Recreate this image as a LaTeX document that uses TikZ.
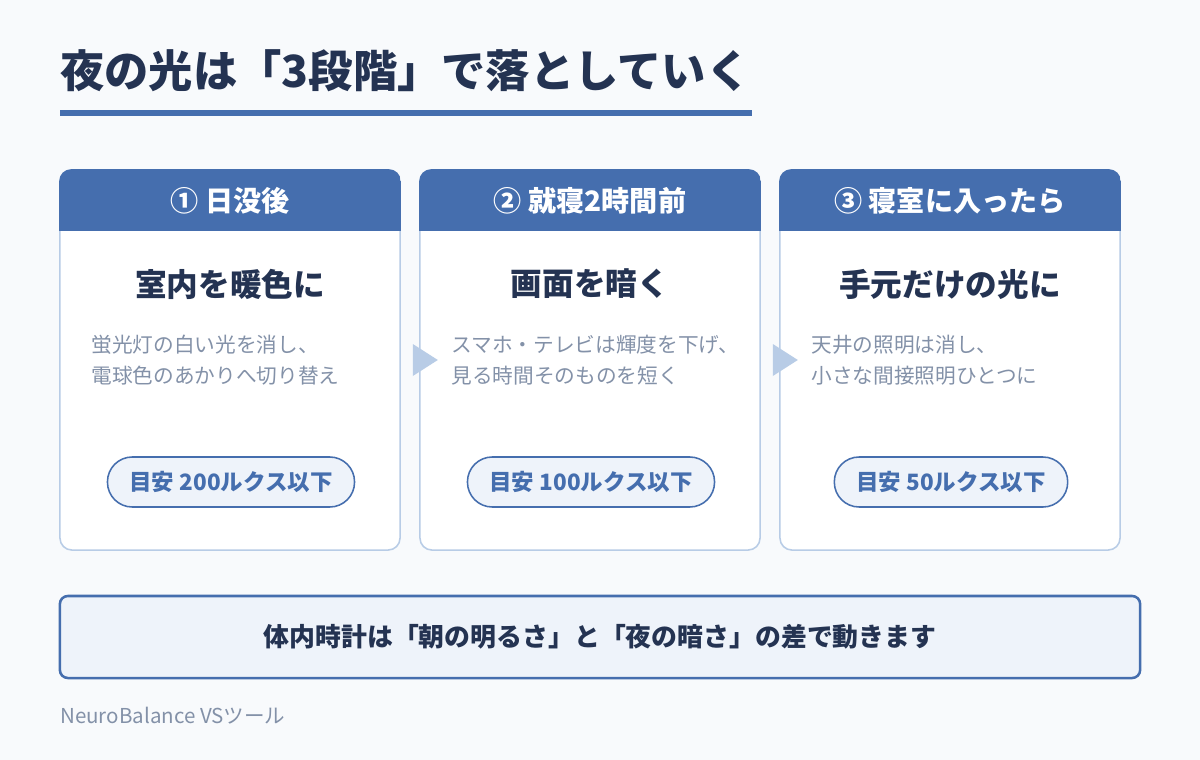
\documentclass[tikz,border=0pt]{standalone}
\usepackage{fontspec}
\setmainfont{Noto Sans CJK JP}
\usetikzlibrary{positioning,calc}
\definecolor{pagebg}{HTML}{F8FAFC}
\definecolor{navy}{HTML}{243352}
\definecolor{steel}{HTML}{456EAE}
\definecolor{pale}{HTML}{B8CCE6}
\definecolor{mist}{HTML}{EEF3FA}
\definecolor{slate}{HTML}{8391A8}
\tikzset{
  card/.style={draw=pale, line width=1.1pt, fill=white, rounded corners=8.5pt,
               minimum width=8.5cm, minimum height=9.5cm, inner sep=0pt},
  cardhead/.style={text=white, font=\fontsize{20}{24}\selectfont\bfseries},
  cardtitle/.style={text=navy, font=\fontsize{22.5}{27}\selectfont\bfseries},
  cardbody/.style={text=slate, align=left, inner sep=0pt,
                   font=\fontsize{14.7}{22}\selectfont},
  badge/.style={draw=steel, line width=1.1pt, fill=mist, text=steel,
                rounded corners=0.62cm, minimum height=1.25cm, inner xsep=0.55cm,
                font=\fontsize{16}{19}\selectfont\bfseries},
  flow/.style={fill=pale}
}
\begin{document}
\begin{tikzpicture}[x=0.025cm, y=-0.025cm]
\useasboundingbox (0,0) rectangle (1200,760);
\fill[pagebg] (0,0) rectangle (1200,760);

% title
\node[anchor=west, inner sep=0pt, text=navy, font=\fontsize{31.5}{36}\selectfont\bfseries]
  (title) at (60,71) {夜の光は「3段階」で落としていく};
\fill[steel] (60,110) rectangle (752,116);

% three steps
\foreach \i/\xc/\head/\main/\body/\lux in {
  1/230/{① 日没後}/{室内を暖色に}/{蛍光灯の白い光を消し、\\電球色のあかりへ切り替え}/200,
  2/590/{② 就寝2時間前}/{画面を暗く}/{スマホ・テレビは輝度を下げ、\\見る時間そのものを短く}/100,
  3/950/{③ 寝室に入ったら}/{手元だけの光に}/{天井の照明は消し、\\小さな間接照明ひとつに}/50}
{
  \node[card] (card\i) at (\xc,360) {};
  \begin{scope}
    \clip[rounded corners=8.5pt] (card\i.north west) rectangle (card\i.south east);
    \fill[steel] (card\i.north west) rectangle ($(card\i.north east)+(0,62)$);
  \end{scope}
  \node[cardhead] (head\i) at (\xc,201) {\head};
  \node[cardtitle] (main\i) at (\xc,284) {\main};
  \node[cardbody, anchor=north west] (body\i) at ($(card\i.north west)+(32,166)$) {\body};
  \node[badge] (lux\i) at (\xc+1,482) {目安\ \lux ルクス以下};
}

% arrows between the steps
\fill[flow] ($(card1.east)+(12,-16)$) -- ($(card1.east)+(37,0)$) -- ($(card1.east)+(12,16)$) -- cycle;
\fill[flow] ($(card2.east)+(12,-16)$) -- ($(card2.east)+(37,0)$) -- ($(card2.east)+(12,16)$) -- cycle;

% summary
\node[draw=steel, line width=1.8pt, fill=mist, rounded corners=5.7pt,
      minimum width=27cm, minimum height=2.05cm, text=navy,
      font=\fontsize{18.4}{22}\selectfont\bfseries]
  (note) at (600,637) {体内時計は「朝の明るさ」と「夜の暗さ」の差で動きます};

\node[anchor=west, inner sep=0pt, text=slate, font=\fontsize{14.6}{17}\selectfont]
  (brand) at (60,716) {NeuroBalance VSツール};
\end{tikzpicture}
\end{document}
